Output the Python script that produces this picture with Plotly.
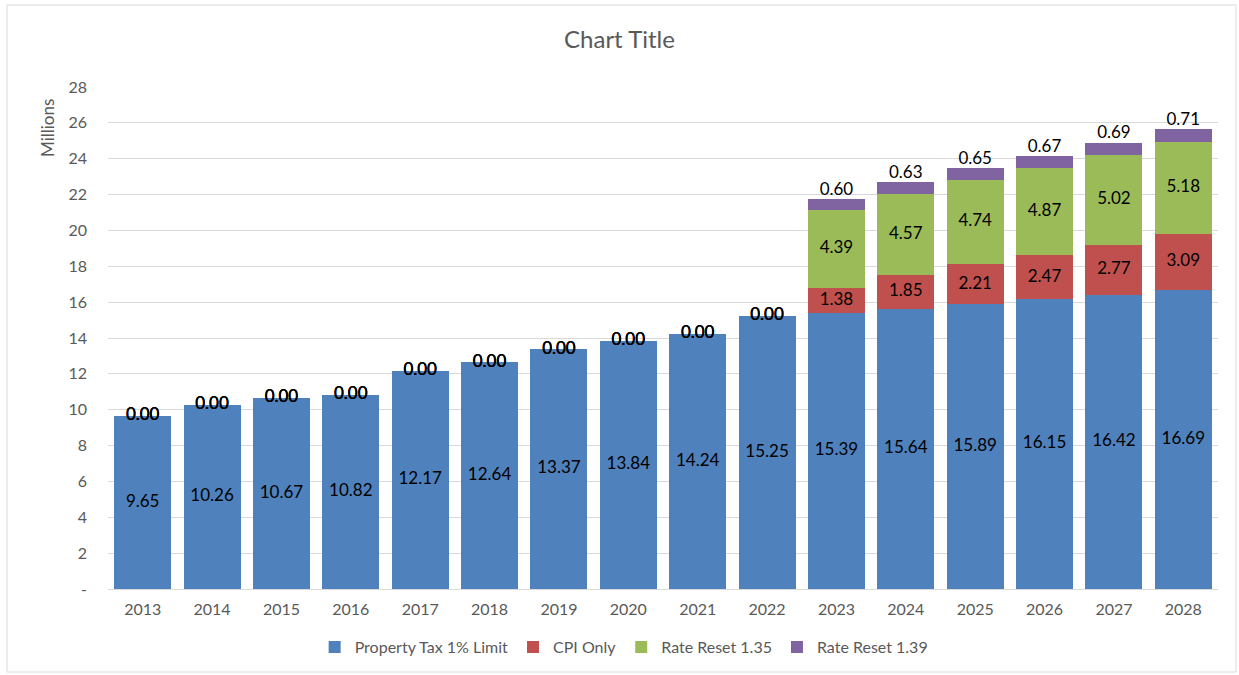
import plotly.graph_objects as go

years = ["2013", "2014", "2015", "2016", "2017", "2018", "2019", "2020",
         "2021", "2022", "2023", "2024", "2025", "2026", "2027", "2028"]
property_tax = [9.65, 10.26, 10.67, 10.82, 12.17, 12.64, 13.37, 13.84,
                14.24, 15.25, 15.39, 15.64, 15.89, 16.15, 16.42, 16.69]
cpi_only = [0, 0, 0, 0, 0, 0, 0, 0, 0, 0, 1.38, 1.85, 2.21, 2.47, 2.77, 3.09]
rate_reset_135 = [0, 0, 0, 0, 0, 0, 0, 0, 0, 0, 4.39, 4.57, 4.74, 4.87, 5.02, 5.18]
rate_reset_139 = [0, 0, 0, 0, 0, 0, 0, 0, 0, 0, 0.60, 0.63, 0.65, 0.67, 0.69, 0.71]

y_tickvals = [0, 2, 4, 6, 8, 10, 12, 14, 16, 18, 20, 22, 24, 26, 28]
y_ticktext = ["-"] + [str(v) for v in y_tickvals[1:]]

series = [
    ("Property Tax 1% Limit", property_tax, "#4F81BD"),
    ("CPI Only", cpi_only, "#C0504D"),
    ("Rate Reset 1.35", rate_reset_135, "#9BBB59"),
    ("Rate Reset 1.39", rate_reset_139, "#8064A2"),
]

FONT = "Lato, 'Open Sans', sans-serif"
GRAY = "#595959"

fig = go.Figure()
for name, vals, color in series:
    fig.add_trace(go.Bar(
        x=years, y=vals, name=name,
        marker=dict(color=color, line=dict(width=0)),
    ))

# data labels
base = [0.0] * len(years)
for idx, (name, vals, color) in enumerate(series):
    ys = []
    pos = []
    for i, v in enumerate(vals):
        if idx == 3 and v > 0:
            ys.append(base[i] + v)
            pos.append("top center")
        else:
            ys.append(base[i] + v / 2)
            pos.append("middle center")
    fig.add_trace(go.Scatter(
        x=years, y=ys, mode="text",
        text=[f"{v:.2f}" for v in vals],
        textposition=pos,
        textfont=dict(family=FONT, size=17, color="#000000"),
        showlegend=False, hoverinfo="skip", cliponaxis=False,
    ))
    base = [b + v for b, v in zip(base, vals)]

L, R, T, B = 108, 21, 87, 86
W, H = 1239, 675
pw, ph = W - L - R, H - T - B

def px_x(x):
    return (x - L) / pw

def px_y(y):
    return (H - B - y) / ph

fig.update_layout(
    width=W, height=H,
    margin=dict(l=L, r=R, t=T, b=B, autoexpand=False),
    barmode="stack", bargap=0.18,
    plot_bgcolor="white", paper_bgcolor="white",
    font=dict(family=FONT, color=GRAY, size=16),
    title=dict(text="Chart Title", x=0.5, xanchor="center",
               y=1 - 40 / H, yanchor="middle",
               font=dict(family=FONT, size=24, color=GRAY)),
    legend=dict(orientation="h", x=0.465, xanchor="center",
                y=px_y(647), yanchor="middle",
                font=dict(family=FONT, size=16, color=GRAY),
                itemwidth=30, traceorder="normal"),
    xaxis=dict(range=[-0.5, len(years) - 0.5], autorange=False,
               showgrid=False, showline=True, linecolor="#D9D9D9", linewidth=1,
               ticks="", tickfont=dict(family=FONT, size=16, color=GRAY),
               ticklabelstandoff=6, automargin=False),
    yaxis=dict(range=[0, 28], autorange=False, tickvals=y_tickvals, ticktext=y_ticktext,
               showgrid=True, gridcolor="#D9D9D9", gridwidth=1,
               zeroline=False, showline=False, ticks="",
               tickfont=dict(family=FONT, size=16, color=GRAY),
               ticklabelstandoff=20, automargin=False),
    shapes=[dict(type="rect", xref="paper", yref="paper",
                 x0=px_x(7), x1=px_x(1236), y0=px_y(672), y1=px_y(5),
                 line=dict(color="#D9D9D9", width=1), layer="below")],
    annotations=[dict(text="Millions", xref="paper", yref="paper",
                      x=px_x(47), y=px_y(128), textangle=-90,
                      showarrow=False, xanchor="center", yanchor="middle",
                      font=dict(family=FONT, size=17, color=GRAY))],
)

fig.write_html("out.html", config={"displayModeBar": False},
               post_script="document.body.style.margin='0';document.body.style.overflow='hidden';")
